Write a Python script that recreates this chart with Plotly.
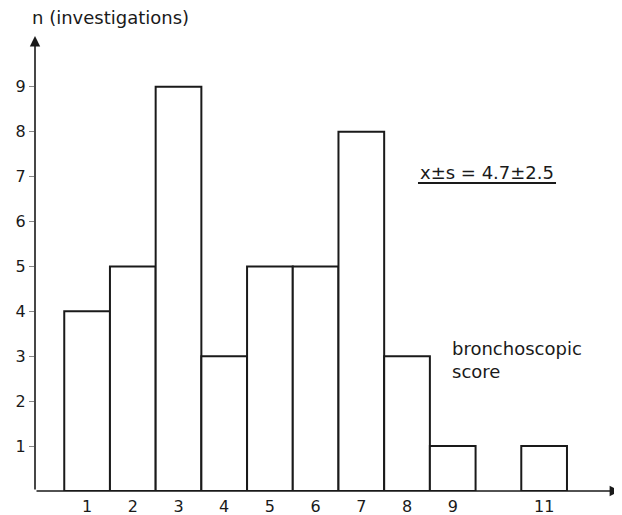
import plotly.graph_objects as go

scores = [1, 2, 3, 4, 5, 6, 7, 8, 9, 11]
counts = [4, 5, 9, 3, 5, 5, 8, 3, 1, 1]
x_ticks = [1, 2, 3, 4, 5, 6, 7, 8, 9, 11]
x_tick_labels = ["1", "2", "3", "4", "5", "6", "7", "8", "9", "11"]
y_ticks = [1, 2, 3, 4, 5, 6, 7, 8, 9]
y_title = "n (investigations)"
stat_text = "x\u00b1s = 4.7\u00b12.5"
x_title = "bronchoscopic<br>score"

FONT = "DejaVu Sans"
INK = "#1a1a1a"

fig = go.Figure()
fig.add_trace(go.Bar(
    x=scores, y=counts, width=1.0,
    marker=dict(color="white", line=dict(color=INK, width=2)),
    hoverinfo="x+y",
))

X0, X1 = -0.14, 12.66
Y1 = 10.13

# page body has an 8px default margin, so the figure is 8px smaller
fig.update_layout(
    width=614, height=507,
    margin=dict(l=27, r=2, t=28, b=24),
    paper_bgcolor="white", plot_bgcolor="white",
    showlegend=False,
    font=dict(family=FONT, size=16, color=INK),
    xaxis=dict(range=[X0, X1], tickvals=x_ticks, ticktext=x_tick_labels,
               showgrid=False, zeroline=False, showline=False, ticks="",
               tickfont=dict(size=16), automargin=False, ticklabelstandoff=4),
    yaxis=dict(range=[0, Y1], tickvals=y_ticks, showgrid=False, zeroline=False,
               showline=False, ticks="outside", ticklen=5, tickwidth=1,
               tickcolor="#888", tickfont=dict(size=16), automargin=False),
)

# axes with arrows
fig.add_annotation(x=X1, y=0, ax=X0, ay=0, xref="x", yref="y", axref="x", ayref="y",
                   text="", showarrow=True, arrowhead=2, arrowsize=1.3, arrowwidth=1.6,
                   arrowcolor=INK)
fig.add_annotation(x=X0, y=Y1, ax=X0, ay=0, xref="x", yref="y", axref="x", ayref="y",
                   text="", showarrow=True, arrowhead=2, arrowsize=1.3, arrowwidth=1.6,
                   arrowcolor=INK)

fig.add_annotation(x=0, y=1.04, xref="paper", yref="paper", xanchor="left", yanchor="middle",
                   xshift=-5, text=y_title, showarrow=False, font=dict(size=18))
fig.add_annotation(x=9.75, y=7.08, xref="x", yref="y", text=stat_text, showarrow=False,
                   font=dict(size=18))
fig.add_shape(type="line", x0=8.24, x1=11.26, y0=6.86, y1=6.86, xref="x", yref="y",
              line=dict(color=INK, width=2))
fig.add_annotation(x=8.94, y=2.92, xref="x", yref="y", xanchor="left", text=x_title,
                   showarrow=False, align="left", font=dict(size=18))

fig.write_html("out.html")
